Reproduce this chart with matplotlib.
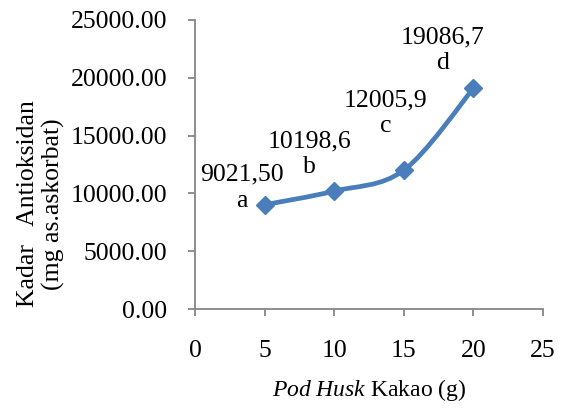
import numpy as np
import matplotlib
matplotlib.use("Agg")
from matplotlib import pyplot as plt
from matplotlib.path import Path
from matplotlib.patches import PathPatch

plt.rcParams['font.family'] = ['Liberation Serif', 'DejaVu Serif']
plt.rcParams['mathtext.fontset'] = 'custom'
plt.rcParams['mathtext.rm'] = 'Liberation Serif'
plt.rcParams['mathtext.it'] = 'Liberation Serif:italic'

# data
pod_husk = [5, 10, 15, 20]
antioksidan = [9021.50, 10198.6, 12005.9, 19086.7]
value_labels = ['9021,50', '10198,6', '12005,9', '19086,7']
letters = ['a', 'b', 'c', 'd']
x_ticks = [0, 5, 10, 15, 20, 25]
y_ticks = [0, 5000, 10000, 15000, 20000, 25000]

# label offsets in pixels (center of two-line block relative to point)
label_offsets = [(-23, 17), (-25, 37), (-18, 57), (-31, 38)]

blue = '#4A7EBB'
grey = '#868686'
fs = 18.5


def smooth_path(xs, ys):
    # excel-like smoothed line: cubic bezier segments with catmull-rom handles
    pts = np.column_stack([xs, ys]).astype(float)
    n = len(pts)
    verts = [pts[0]]
    codes = [Path.MOVETO]
    for i in range(n - 1):
        p0 = pts[i - 1] if i > 0 else pts[i]
        p1 = pts[i]
        p2 = pts[i + 1]
        p3 = pts[i + 2] if i + 2 < n else pts[i + 1]
        c1 = p1 + (p2 - p0) / 6.0
        c2 = p2 - (p3 - p1) / 6.0
        verts += [c1, c2, p2]
        codes += [Path.CURVE4] * 3
    return Path(verts, codes)


fig = plt.figure(figsize=(5.64, 4.12), dpi=100)
ax = fig.add_axes([195/564, 1 - 309/412, 348/564, 289/412])

ax.set_xlim(0, 25)
ax.set_ylim(0, 25000)

ax.add_patch(PathPatch(smooth_path(pod_husk, antioksidan), facecolor='none',
                       edgecolor=blue, linewidth=3.4, capstyle='round', joinstyle='round'))
ax.plot(pod_husk, antioksidan, linestyle='none', marker='D', markersize=9,
        color=blue, markeredgecolor=blue)

for x, y, v, l, off in zip(pod_husk, antioksidan, value_labels, letters, label_offsets):
    ax.annotate(v + '\n' + l, xy=(x, y), xytext=off, textcoords='offset pixels',
                ha='center', va='center', multialignment='center',
                fontsize=fs, linespacing=1.25)

ax.set_xticks(x_ticks)
ax.set_yticks(y_ticks)
ax.set_yticklabels(['%.2f' % t for t in y_ticks])

for s in ['top', 'right']:
    ax.spines[s].set_visible(False)
for s in ['left', 'bottom']:
    ax.spines[s].set_color(grey)
    ax.spines[s].set_linewidth(1.3)

ax.tick_params(axis='both', colors=grey, length=5, width=1.3, labelsize=fs,
               labelcolor='black')
ax.tick_params(axis='x', pad=17)
ax.tick_params(axis='y', pad=15)

fig.text(41/564, 1 - 204/412, 'Kadar   Antioksidan\n(mg as.askorbat)', rotation=90,
         ha='center', va='center', multialignment='center', fontsize=fs,
         linespacing=1.15)
fig.text(369/564, 1 - 390/412, r'$\it{Pod\ Husk}$ Kakao (g)', ha='center',
         va='center', fontsize=17)

fig.savefig('out.png', dpi=100)
